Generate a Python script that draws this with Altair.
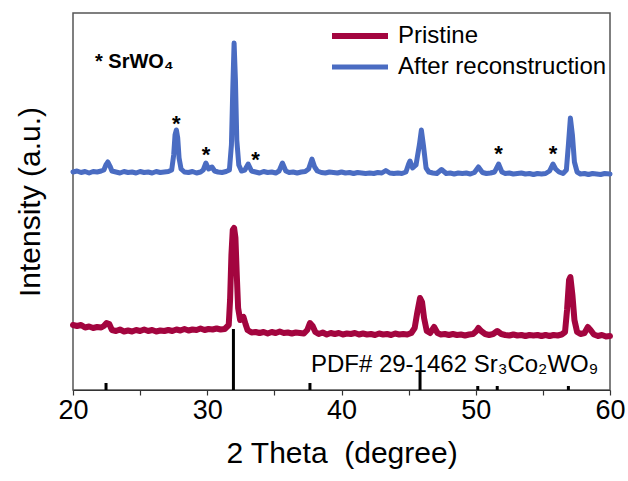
import altair as alt
import pandas as pd

# ---- data (y in arbitrary intensity units) ----
blue_x = [20.0, 20.3, 20.6, 20.9, 21.2, 21.5, 21.8, 22.1, 22.3, 22.45, 22.6, 22.75, 22.9,
          23.2, 23.5, 23.8, 24.1, 24.4, 24.7, 25.0, 25.3, 25.6, 25.9, 26.2, 26.5, 26.8, 27.1,
          27.35, 27.5, 27.6, 27.7, 27.8, 27.9, 28.05, 28.3, 28.6, 28.9, 29.2, 29.5, 29.7, 29.9,
          30.1, 30.35, 30.55, 30.8, 31.1, 31.4, 31.65, 31.8, 31.9, 32.0, 32.1, 32.2, 32.35,
          32.55, 32.8, 33.05, 33.3, 33.6, 33.9, 34.2, 34.5, 34.8, 35.1, 35.35, 35.6, 35.85,
          36.1, 36.4, 36.7, 37.0, 37.3, 37.55, 37.8, 38.0, 38.2, 38.5, 38.8, 39.1, 39.4, 39.7,
          40.0, 40.3, 40.6, 40.9, 41.2, 41.5, 41.8, 42.1, 42.4, 42.7, 43.0, 43.3, 43.6, 43.9,
          44.2, 44.5, 44.8, 45.0, 45.1, 45.3, 45.55, 45.8, 45.95, 46.1, 46.3, 46.5, 46.8, 47.1,
          47.45, 47.8, 48.1, 48.4, 48.7, 49.0, 49.3, 49.6, 49.9, 50.2, 50.5, 50.8, 51.1, 51.4,
          51.7, 51.95, 52.2, 52.5, 52.8, 53.1, 53.4, 53.7, 54.0, 54.3, 54.6, 54.9, 55.2, 55.5,
          55.75, 55.95, 56.2, 56.5, 56.75, 56.9, 57.05, 57.2, 57.35, 57.55, 57.8, 58.1, 58.4,
          58.7, 59.0, 59.3, 59.6, 60.0]
blue_y = [218, 219, 217.5, 218.5, 217, 218.5, 218, 219, 220, 225, 228, 224, 219,
          218, 217, 218.5, 217.5, 218, 217, 218.5, 217.5, 218, 217, 218.5, 217.5, 218, 218.5,
          220, 235, 255, 260, 252, 232, 221, 218, 217.5, 218.5, 217, 218, 220, 227,
          221, 223, 219, 218, 217.5, 218.5, 220, 245, 300, 347, 310, 250, 225,
          219, 220, 226, 219, 218, 217, 218.5, 217.5, 218, 217, 219, 227, 219,
          217.5, 218, 217, 218, 218.5, 221, 231, 223, 219, 217.5, 217, 218, 217.5, 217,
          218, 217, 217.5, 216.5, 217.5, 217, 216.5, 217, 216.5, 217.5, 217, 219.5, 217, 216.5,
          217, 216.5, 218, 226, 229, 222, 225, 245, 260, 245, 222, 218, 217, 216.5,
          220.5, 216.5, 217, 216, 217, 216.5, 217, 216, 217.5, 223, 217.5, 216.5, 217, 218,
          226, 218, 216.5, 217, 216, 216.5, 217, 216, 216.5, 215.5, 216.5, 216, 216.5, 219,
          226, 221, 218, 216.5, 220, 245, 272, 255, 228, 218, 216, 216.5, 215.5,
          216.5, 216, 215.5, 216.5, 216]

red_x = [20.0, 20.3, 20.6, 20.9, 21.2, 21.5, 21.8, 22.1, 22.3, 22.5, 22.7, 22.9, 23.2, 23.5,
         23.8, 24.1, 24.4, 24.7, 25.0, 25.3, 25.6, 25.9, 26.2, 26.5, 26.8, 27.1, 27.4, 27.7,
         28.0, 28.3, 28.6, 28.9, 29.2, 29.5, 29.8, 30.1, 30.4, 30.7, 31.0, 31.3, 31.6, 31.7,
         31.8, 31.9, 32.0, 32.1, 32.2, 32.3, 32.45, 32.6, 32.7, 32.85, 33.0, 33.3, 33.6, 33.9,
         34.2, 34.5, 34.8, 35.1, 35.4, 35.7, 36.0, 36.3, 36.6, 36.9, 37.2, 37.45, 37.65, 37.85,
         38.05, 38.3, 38.6, 38.9, 39.2, 39.5, 39.8, 40.1, 40.4, 40.7, 41.0, 41.3, 41.6, 41.9,
         42.2, 42.5, 42.8, 43.1, 43.4, 43.7, 44.0, 44.3, 44.6, 44.9, 45.2, 45.45, 45.65, 45.85,
         46.0, 46.15, 46.35, 46.6, 46.9, 47.15, 47.4, 47.7, 48.0, 48.3, 48.6, 48.9, 49.2, 49.5,
         49.8, 50.05, 50.2, 50.4, 50.7, 51.0, 51.3, 51.6, 51.9, 52.2, 52.5, 52.8, 53.1, 53.4,
         53.7, 54.0, 54.3, 54.6, 54.9, 55.2, 55.5, 55.8, 56.1, 56.4, 56.65, 56.8, 56.95, 57.05,
         57.2, 57.35, 57.55, 57.8, 58.1, 58.35, 58.55, 58.8, 59.1, 59.4, 59.7, 60.0]
red_y = [65, 64, 65, 62.5, 63.5, 62, 63, 62.5, 64, 67, 66, 60, 59, 60.5,
         58.5, 59.5, 58.5, 60, 59, 60.5, 59, 60, 58.5, 59.5, 59, 60, 59, 60.5,
         59.5, 61, 59.5, 60.5, 60, 61.5, 60, 61, 60.5, 61.5, 60.5, 61, 65, 90,
         135, 160, 162, 152, 115, 82, 70, 72, 73, 66, 60, 57.5, 58, 57,
         58, 56.5, 58, 57, 58.5, 57, 57.5, 56.5, 57.5, 57, 56.5, 60, 67, 64,
         58, 56, 57.5, 55.5, 57, 56, 57, 55.5, 56.5, 56, 57, 55.5, 56.5, 55.5,
         56, 55, 56.5, 55.5, 56, 55, 56.5, 55.5, 56, 55.5, 57, 62, 78, 92,
         88, 72, 59, 57, 63, 57, 55.5, 56, 55, 56, 55, 55.5, 54.5, 55.5,
         56, 59, 62, 59, 56, 55, 56, 59, 56, 55, 54.5, 55.5, 54.5, 55,
         54, 55, 54.5, 55, 54, 55, 54, 55, 54.5, 55.5, 58, 80, 110, 113,
         95, 70, 58, 56, 57, 63, 60, 55.5, 54, 55, 53.5, 54]

# reference pattern PDF# 29-1462
stick_x = [22.46, 31.95, 37.65, 45.85, 50.15, 51.6, 56.9]
stick_h = [7, 61, 7, 18, 4, 4, 4]

# SrWO4 impurity marks
star_x = [27.7, 29.9, 33.6, 51.7, 55.75]
star_y = [272, 241, 236, 242, 242]

series_names = ["Pristine", "After reconstruction"]
colors = ["#A3053F", "#4A6CC2"]

df = pd.concat([
    pd.DataFrame({"x": red_x, "y": red_y, "series": series_names[0]}),
    pd.DataFrame({"x": blue_x, "y": blue_y, "series": series_names[1]}),
])
sticks = pd.DataFrame({"x": stick_x, "h": stick_h, "base": [0] * len(stick_x)})
stars = pd.DataFrame({"x": star_x, "y": star_y, "t": ["*"] * len(star_x)})
legend_note = pd.DataFrame({"x": [21.64], "y": [328], "t": ["* SrWO\u2084"]})
pdf_note = pd.DataFrame({"x": [37.72], "y": [18],
                         "t": ["PDF# 29-1462 Sr\u2083Co\u2082WO\u2089"]})

FONT = "Liberation Sans"

xscale = alt.Scale(domain=[20, 60], nice=False)
yscale = alt.Scale(domain=[0, 377], nice=False)

xaxis = alt.Axis(
    values=[20, 25, 30, 35, 40, 45, 50, 55, 60],
    labelExpr="datum.value % 10 == 0 ? datum.label : ''",
    labelFlush=False, labelOverlap=False,
    title="2 Theta \u00a0(degree)",
    titleFontSize=30, titleFontWeight="normal", titleFont=FONT, titleColor="black",
    titlePadding=15,
    labelFontSize=27, labelFont=FONT, labelColor="black", labelPadding=2,
    tickSize=5, tickColor="#333", tickWidth=1.2,
    domainColor="#333", domainWidth=1.2, grid=False,
)
yaxis = alt.Axis(
    title="Intensity (a.u.)", titleFontSize=30, titleFontWeight="normal",
    titleFont=FONT, titleColor="black", titlePadding=28,
    labels=False, ticks=False, domain=False, grid=False,
)

lines = alt.Chart(df).mark_line(strokeJoin="round", strokeCap="round").encode(
    x=alt.X("x:Q", scale=xscale, axis=xaxis),
    y=alt.Y("y:Q", scale=yscale, axis=yaxis),
    color=alt.Color(
        "series:N",
        scale=alt.Scale(domain=series_names, range=colors),
        sort=series_names,
        legend=alt.Legend(
            title=None, orient="none", legendX=256, legendY=10,
            symbolType="stroke", symbolSize=3136, symbolStrokeWidth=5,
            clipHeight=26, rowPadding=5, labelOffset=7, padding=0,
            labelFontSize=24, labelFont=FONT, labelColor="black", labelLimit=400,
        ),
    ),
    strokeWidth=alt.StrokeWidth(
        "series:N", scale=alt.Scale(domain=series_names, range=[6, 5]), legend=None
    ),
    order=alt.Order("x:Q"),
    detail="series:N",
)

rules = alt.Chart(sticks).mark_rule(color="black", strokeWidth=3).encode(
    x="x:Q", y="h:Q", y2="base:Q"
)

star_marks = alt.Chart(stars).mark_text(
    font=FONT, fontSize=22, fontWeight="bold", color="black", baseline="middle", dy=6
).encode(x="x:Q", y="y:Q", text="t:N")

note1 = alt.Chart(legend_note).mark_text(
    font=FONT, fontSize=20, fontWeight="bold", color="black",
    align="left", baseline="middle"
).encode(x="x:Q", y="y:Q", text="t:N")

note2 = alt.Chart(pdf_note).mark_text(
    font=FONT, fontSize=24, color="black", align="left", baseline="alphabetic"
).encode(x="x:Q", y="y:Q", text="t:N")

chart = alt.layer(lines, rules, star_marks, note1, note2).properties(
    width=537, height=377,
    autosize=alt.AutoSizeParams(type="none"),
    padding={"left": 73, "top": 13, "right": 18, "bottom": 91},
    background="white",
).configure_view(stroke="#555", strokeWidth=1.5)

chart.save("out.html", embed_options={"renderer": "svg", "actions": False})
